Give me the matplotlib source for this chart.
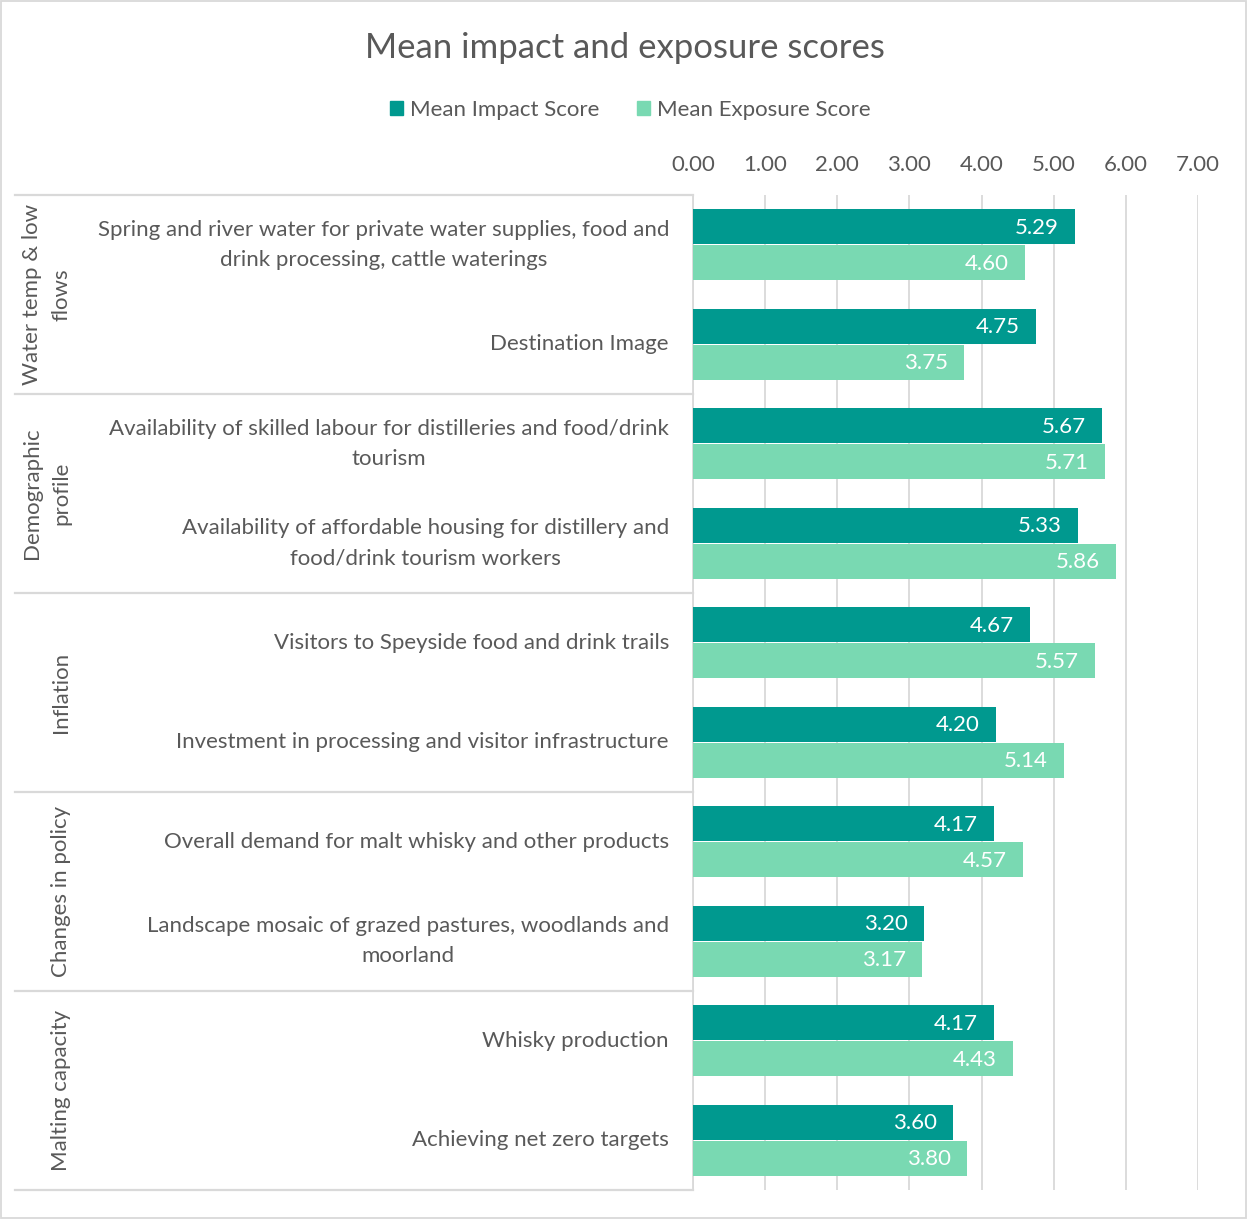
import matplotlib
matplotlib.use("Agg")
import matplotlib.pyplot as plt
import matplotlib.transforms as mtransforms
from matplotlib.patches import Patch, Rectangle
from matplotlib.lines import Line2D
import numpy as np

plt.rcParams["font.family"] = ["Lato", "DejaVu Sans"]

groups = ["Water temp & low\nflows", "Demographic\nprofile", "Inflation",
          "Changes in policy", "Malting capacity"]
categories = [
    "Spring and river water for private water supplies, food and\ndrink processing, cattle waterings",
    "Destination Image",
    "Availability of skilled labour for distilleries and food/drink\ntourism",
    "Availability of affordable housing for distillery and\nfood/drink tourism workers",
    "Visitors to Speyside food and drink trails",
    "Investment in processing and visitor infrastructure",
    "Overall demand for malt whisky and other products",
    "Landscape mosaic of grazed pastures, woodlands and\nmoorland",
    "Whisky production",
    "Achieving net zero targets",
]
impact = [5.29, 4.75, 5.67, 5.33, 4.67, 4.20, 4.17, 3.20, 4.17, 3.60]
exposure = [4.60, 3.75, 5.71, 5.86, 5.57, 5.14, 4.57, 3.17, 4.43, 3.80]
x_ticks = [0, 1, 2, 3, 4, 5, 6, 7]

IMPACT_COL = "#00998F"
EXPOSURE_COL = "#79D9B2"
TEXT_COL = "#595959"
GRID_COL = "#D9D9D9"
FS = 16

W, H = 1247, 1219
fig = plt.figure(figsize=(W / 100, H / 100), dpi=100)


def fx(px):
    return px / W


def fy(py):
    return 1 - py / H


ax = fig.add_axes([fx(693), fy(1190), fx(1198) - fx(693), fy(195) - fy(1190)])

y = np.arange(len(categories))
ax.barh(y - 0.18, impact, height=0.35, color=IMPACT_COL, zorder=3)
ax.barh(y + 0.18, exposure, height=0.35, color=EXPOSURE_COL, zorder=3)

for i in range(len(categories)):
    ax.annotate(f"{impact[i]:.2f}", (impact[i], y[i] - 0.18), xytext=(-16, -1),
                textcoords="offset pixels", ha="right", va="center",
                color="white", fontsize=FS, zorder=4)
    ax.annotate(f"{exposure[i]:.2f}", (exposure[i], y[i] + 0.18), xytext=(-16, -1),
                textcoords="offset pixels", ha="right", va="center",
                color="white", fontsize=FS, zorder=4)

ax.set_xlim(0, 7)
ax.set_ylim(len(categories) - 0.5, -0.5)
ax.set_xticks(x_ticks)
ax.set_xticklabels([f"{v:.2f}" for v in x_ticks])
ax.xaxis.tick_top()
ax.tick_params(axis="x", length=0, pad=14.5, labelsize=FS, labelcolor=TEXT_COL)
ax.set_yticks([])
ax.grid(axis="x", color=GRID_COL, linewidth=1.3, zorder=0)
for s in ["top", "right", "bottom"]:
    ax.spines[s].set_visible(False)
ax.spines["left"].set_color(GRID_COL)
ax.spines["left"].set_linewidth(1.3)

# category and group labels on the left
trans = mtransforms.blended_transform_factory(fig.transFigure, ax.transData)
for i, cat in enumerate(categories):
    ax.text(fx(669), y[i], cat, transform=trans, ha="right", va="center",
            multialignment="center", fontsize=FS, color=TEXT_COL,
            linespacing=1.62, clip_on=False)

for g, name in enumerate(groups):
    ax.text(fx(71), 2 * g + 0.5, name, transform=trans, rotation=90,
            ha="right", va="center", multialignment="center",
            fontsize=FS, color=TEXT_COL, linespacing=1.55, clip_on=False)

for b in range(len(groups) + 1):
    yb = 2 * b - 0.5
    ax.add_line(Line2D([fx(15), fx(693)], [yb, yb], transform=trans,
                       color=GRID_COL, linewidth=1.6, clip_on=False))

fig.text(0.5015, fy(48), "Mean impact and exposure scores", ha="center",
         va="center", fontsize=25, color=TEXT_COL)

handles = [Patch(color=IMPACT_COL, label="Mean Impact Score"),
           Patch(color=EXPOSURE_COL, label="Mean Exposure Score")]
fig.legend(handles=handles, loc="center", bbox_to_anchor=(fx(630), fy(110)),
           ncol=2, frameon=False, fontsize=FS, handlelength=0.6,
           handleheight=0.6, handletextpad=0.3, columnspacing=1.7,
           labelcolor=TEXT_COL)

fig.patches.append(Rectangle((0.0008, 0.0008), 0.9984, 0.9984,
                             transform=fig.transFigure, fill=False,
                             edgecolor=GRID_COL, linewidth=1.3))

fig.savefig("out.png", dpi=100)
